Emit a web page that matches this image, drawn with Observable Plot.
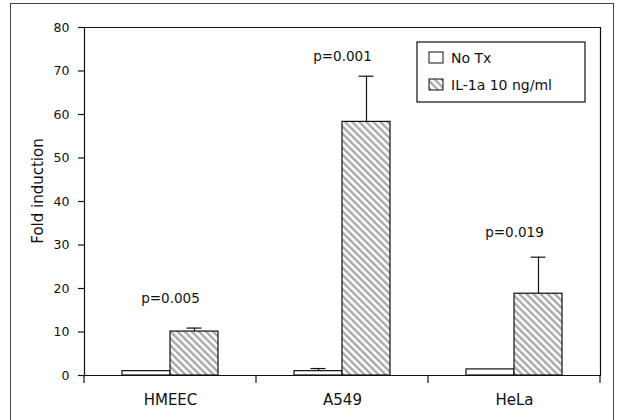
<!DOCTYPE html>
<html>
<head>
<meta charset="utf-8">
<script src="https://cdn.jsdelivr.net/npm/d3@7"></script>
<script src="https://cdn.jsdelivr.net/npm/@observablehq/plot@0.6"></script>
<style>
  html, body { margin: 0; padding: 0; background: white; }
  #wrap { position: relative; width: 618px; height: 420px; overflow: hidden; }
  #border { position: absolute; left: 10px; top: 3px; width: 604px; height: 420px; border: 1.5px solid #444; box-sizing: border-box; pointer-events: none; }
</style>
</head>
<body>
<div id="wrap"><div id="border"></div></div>
<script>
const groups = ["HMEEC", "A549", "HeLa"];
const series = ["No Tx", "IL-1a 10 ng/ml"];
const noTx = [1.0, 1.0, 1.4];
const noTxErr = [0, 0.6, 0];
const il1a = [10.1, 58.3, 18.8];
const il1aErr = [0.8, 10.5, 8.4];
const pLabels = ["p=0.005", "p=0.001", "p=0.019"];
const pLabelY = [17.7, 73.2, 32.9];
const yTicks = [0, 10, 20, 30, 40, 50, 60, 70, 80];
const yLabel = "Fold induction";

const data = groups.flatMap((g, i) => [
  {group: g, series: series[0], value: noTx[i], err: noTxErr[i]},
  {group: g, series: series[1], value: il1a[i], err: il1aErr[i]}
]);
const errData = data.filter(d => d.err > 0);
const pData = groups.map((g, i) => ({group: g, label: pLabels[i], y: pLabelY[i]}));

const font = "DejaVu Sans, sans-serif";

const plot = Plot.plot({
  width: 618, height: 420,
  marginLeft: 84, marginRight: 18, marginTop: 27, marginBottom: 45,
  style: {fontFamily: font, fontSize: "12px", color: "#111", background: "transparent", overflow: "visible"},
  fx: {domain: groups, padding: 0, label: null, axis: null},
  x: {domain: series, paddingInner: 0, paddingOuter: 0.77, axis: null},
  y: {domain: [0, 80], axis: null},
  marks: [
    Plot.ruleY([0, 80], {stroke: "#111", strokeWidth: 1.2}),
    Plot.frame({anchor: "left", facetAnchor: "left", stroke: "#111", strokeWidth: 1.2}),
    Plot.frame({anchor: "right", facetAnchor: "right", stroke: "#111", strokeWidth: 1.2}),
    Plot.ruleX(errData, {fx: "group", x: "series", y1: "value", y2: d => d.value + d.err, stroke: "#111", strokeWidth: 1.2}),
    Plot.tickY(errData, {fx: "group", x: "series", y: d => d.value + d.err, insetLeft: 16.5, insetRight: 16.5, stroke: "#111", strokeWidth: 1.2}),
    Plot.barY(data.filter(d => d.series === series[0]), {fx: "group", x: "series", y: "value", fill: "white", stroke: "#111", strokeWidth: 1.2}),
    Plot.barY(data.filter(d => d.series === series[1]), {fx: "group", x: "series", y: "value", fill: "url(#hatch)", stroke: "#111", strokeWidth: 1.2}),
    Plot.text(pData, {fx: "group", y: "y", text: "label", frameAnchor: "middle", fontSize: 13.5, fill: "#111"}),
    Plot.axisY({ticks: yTicks, tickSize: 6, tickPadding: 9, label: null, fontSize: 12.5, strokeWidth: 1.2}),
    Plot.axisFx({anchor: "bottom", tickSize: 0, tickPadding: 19, label: null, fontSize: 15})
  ]
});

document.getElementById("wrap").appendChild(plot);

const svg = d3.select(plot);
// hatch pattern
const defs = svg.insert("defs", ":first-child");
const pat = defs.append("pattern")
  .attr("id", "hatch").attr("patternUnits", "userSpaceOnUse")
  .attr("width", 5).attr("height", 5)
  .attr("patternTransform", "rotate(-45)");
pat.append("rect").attr("width", 5).attr("height", 5).attr("fill", "white");
pat.append("rect").attr("width", 2.4).attr("height", 5).attr("fill", "#a8a8a8");

// boundary ticks on x axis using fx scale
const fx = plot.scale("fx");
const yS = plot.scale("y");
const y0 = yS.apply(0);
const edges = groups.map(g => fx.apply(g)).concat([fx.apply(groups[groups.length - 1]) + fx.bandwidth]);
const off = (fx.range[0] < 84 - 1) ? 84 - fx.range[0] : 0;
svg.append("g").attr("stroke", "#111").attr("stroke-width", 1.2)
  .selectAll("line").data(edges).join("line")
  .attr("x1", d => d + off).attr("x2", d => d + off)
  .attr("y1", y0).attr("y2", y0 + 8);

// y label
svg.append("text")
  .attr("transform", `translate(43,${(yS.apply(0) + yS.apply(80)) / 2 - 10}) rotate(-90)`)
  .attr("text-anchor", "middle")
  .attr("font-family", font).attr("font-size", 15).attr("fill", "#111")
  .text(yLabel);

// legend
const lg = svg.append("g").attr("font-family", font).attr("font-size", 14).attr("fill", "#111")
  .attr("text-anchor", "start");
lg.append("rect").attr("x", 417).attr("y", 42).attr("width", 168).attr("height", 60)
  .attr("fill", "white").attr("stroke", "#111").attr("stroke-width", 1.2);
series.forEach((s, i) => {
  const yy = 52 + i * 27;
  lg.append("rect").attr("x", 429).attr("y", yy).attr("width", 14).attr("height", 11)
    .attr("fill", i === 0 ? "white" : "url(#hatch)").attr("stroke", "#111").attr("stroke-width", 1);
  lg.append("text").attr("x", 451).attr("y", yy + 11).attr("text-anchor", "start").text(s);
});
</script>
</body>
</html>
